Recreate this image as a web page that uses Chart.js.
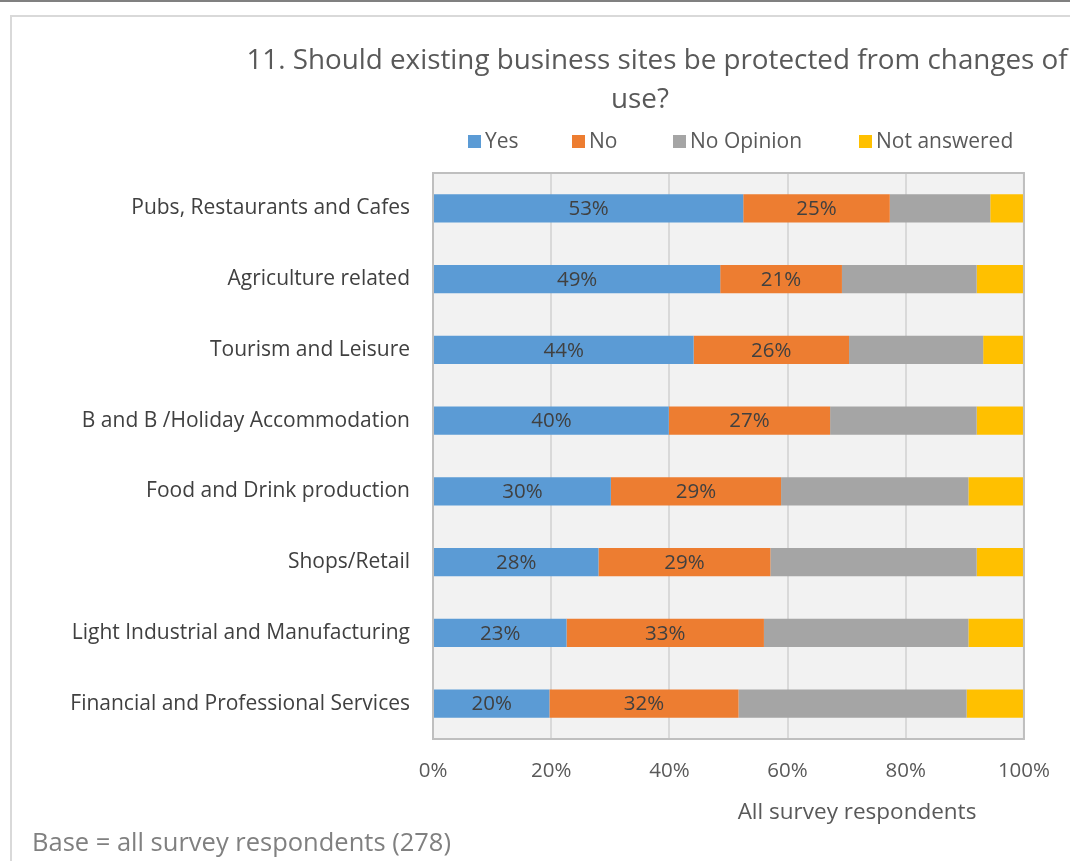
<!DOCTYPE html>
<html>
<head>
<meta charset="utf-8">
<script src="https://cdn.jsdelivr.net/npm/chart.js@4/dist/chart.umd.min.js"></script>
<style>
  html, body { margin: 0; padding: 0; background: #fff; }
  #wrap { position: relative; width: 1070px; height: 861px; overflow: hidden; }
  #topline { position: absolute; left: 0; top: 0; width: 1070px; height: 2px; background: #808080; }
  #box { position: absolute; left: 10px; top: 15px; width: 1100px; height: 900px;
         border-left: 2px solid #d9d9d9; border-top: 2px solid #d9d9d9; }
  #evoChart { position: absolute; left: 0; top: 0; }
</style>
</head>
<body>
<div id="wrap">
  <div id="topline"></div>
  <div id="box"></div>
  <canvas id="evoChart" width="1070" height="861"></canvas>
</div>
<script>
const categories = [
  "Pubs, Restaurants and Cafes",
  "Agriculture related",
  "Tourism and Leisure",
  "B and B /Holiday Accommodation",
  "Food and Drink production",
  "Shops/Retail",
  "Light Industrial and Manufacturing",
  "Financial and Professional Services"
];
const yesValues       = [52.5, 48.6, 44.1, 39.9, 30.1, 28.0, 22.6, 19.7];
const noValues        = [24.8, 20.6, 26.3, 27.3, 28.8, 29.1, 33.4, 32.0];
const noOpinionValues = [17.0, 22.8, 22.7, 24.8, 31.7, 34.9, 34.6, 38.6];
const notAnswered     = [5.7, 8.0, 6.9, 8.0, 9.4, 8.0, 9.4, 9.7];
const xTicks = [0, 20, 40, 60, 80, 100];

const titleLines = ["11. Should existing business sites be protected from changes of", "use?"];
const axisTitle = "All survey respondents";
const footnote = "Base = all survey respondents (278)";

const FONT = "'Open Sans', 'Noto Sans', sans-serif";

// plot background, frame and the texts Excel puts around the chart
const decorPlugin = {
    id: 'decor',
    beforeDraw(chart) {
        const {ctx, chartArea: a} = chart;
        ctx.save();
        ctx.fillStyle = '#f2f2f2';
        ctx.fillRect(a.left, a.top, a.right - a.left, a.bottom - a.top);
        ctx.restore();
    },
    afterDraw(chart) {
        const {ctx, chartArea: a} = chart;
        ctx.save();
        ctx.strokeStyle = '#bfbfbf';
        ctx.lineWidth = 2;
        ctx.strokeRect(a.left, a.top, a.right - a.left, a.bottom - a.top);

        ctx.fillStyle = '#595959';
        ctx.textBaseline = 'middle';
        ctx.textAlign = 'center';
        ctx.font = `27.8px ${FONT}`;
        ctx.fillText(titleLines[0], 657, 61);
        ctx.fillText(titleLines[1], 640, 100);

        // legend
        const legendX = [468, 572, 673, 859];
        ctx.font = `21px ${FONT}`;
        ctx.textAlign = 'left';
        chart.data.datasets.forEach((ds, i) => {
            ctx.fillStyle = ds.backgroundColor;
            ctx.fillRect(legendX[i], 135, 13, 13);
            ctx.fillStyle = '#595959';
            ctx.fillText(ds.label, legendX[i] + 17, 142);
        });

        ctx.font = `22.5px ${FONT}`;
        ctx.textAlign = 'center';
        ctx.fillText(axisTitle, 857, 813);

        ctx.textAlign = 'left';
        ctx.fillStyle = '#808080';
        ctx.font = `25.5px ${FONT}`;
        ctx.fillText(footnote, 32, 844);
        ctx.restore();
    }
};

// value labels inside Yes / No bars
const labelPlugin = {
    id: 'barLabels',
    afterDatasetsDraw(chart) {
        const ctx = chart.ctx;
        ctx.save();
        ctx.font = `20.5px ${FONT}`;
        ctx.fillStyle = '#404040';
        ctx.textAlign = 'center';
        ctx.textBaseline = 'middle';
        [0, 1].forEach(di => {
            const meta = chart.getDatasetMeta(di);
            meta.data.forEach((bar, i) => {
                const v = chart.data.datasets[di].data[i];
                ctx.fillText(Math.round(v) + '%', (bar.x + bar.base) / 2, bar.y + 1);
            });
        });
        ctx.restore();
    }
};

const datasets = [
    {label: 'Yes', data: yesValues, backgroundColor: '#5b9bd5'},
    {label: 'No', data: noValues, backgroundColor: '#ed7d31'},
    {label: 'No Opinion', data: noOpinionValues, backgroundColor: '#a5a5a5'},
    {label: 'Not answered', data: notAnswered, backgroundColor: '#ffc000'}
].map(d => ({...d, barPercentage: 0.4, categoryPercentage: 1, borderWidth: 0}));

const ctx = document.getElementById("evoChart").getContext("2d");
new Chart(ctx, {
    type: 'bar',
    data: {labels: categories, datasets},
    plugins: [decorPlugin, labelPlugin],
    options: {
        indexAxis: 'y',
        responsive: false,
        animation: false,
        layout: {padding: {left: 0, right: 45, top: 173, bottom: 72}},
        plugins: {
            legend: {display: false},
            title: {display: false},
            tooltip: {enabled: false}
        },
        scales: {
            x: {
                stacked: true,
                min: 0,
                max: 100,
                afterBuildTicks: s => { s.ticks = xTicks.map(v => ({value: v})); },
                afterFit: s => { s.height = 50; },
                grid: {color: '#d9d9d9', lineWidth: 2, drawTicks: false},
                border: {display: false},
                ticks: {
                    padding: 20,
                    color: '#595959',
                    font: {family: FONT, size: 20.5},
                    callback: v => v + '%'
                }
            },
            y: {
                stacked: true,
                afterFit: s => { s.width = 433; },
                grid: {display: false, drawTicks: false},
                border: {display: false},
                ticks: {
                    padding: 23,
                    color: '#404040',
                    font: {family: FONT, size: 21}
                }
            }
        }
    }
});
</script>
</body>
</html>
